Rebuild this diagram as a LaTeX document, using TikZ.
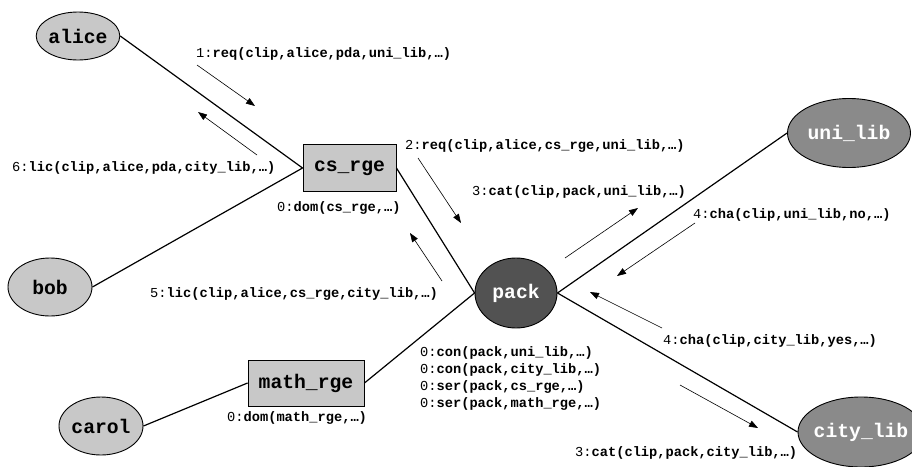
\documentclass[tikz,border=0pt]{standalone}
\usepackage{fontspec}
\setmonofont{Liberation Mono}
\usetikzlibrary{shapes.geometric,arrows.meta}
\definecolor{lightg}{RGB}{200,200,200}
\definecolor{midg}{RGB}{138,138,138}
\definecolor{darkg}{RGB}{82,82,82}
\newcommand{\msg}[2]{{\mdseries#1:}\textbf{#2}}
\begin{document}
\begin{tikzpicture}[x=1pt,y=-1pt,
  nodefont/.style={font=\fontsize{19.7}{22}\selectfont\ttfamily\bfseries},
  agent/.style={ellipse,draw=black,line width=0.9pt,fill=lightg,inner sep=0pt,nodefont},
  lib/.style={agent,fill=midg,text=white},
  packnode/.style={agent,fill=darkg,text=white},
  rge/.style={rectangle,draw=black,line width=0.9pt,fill=lightg,inner sep=0pt,nodefont},
  link/.style={line width=1.2pt},
  msgarrow/.style={line width=0.6pt,-{Triangle[length=9pt,width=6.5pt]}},
  lbl/.style={anchor=west,inner sep=0pt,font=\fontsize{13.7}{16}\selectfont\ttfamily}]
\useasboundingbox (0,0) rectangle (912,466);
% nodes
\node[agent,minimum width=83pt,minimum height=48pt] (alice) at (78,36) {alice};
\node[agent,minimum width=84pt,minimum height=58pt] (bob) at (50,287) {bob};
\node[agent,minimum width=84pt,minimum height=58pt] (carol) at (101,426) {carol};
\node[rge,minimum width=93pt,minimum height=47pt] (csrge) at (349.5,168) {cs\_rge};
\node[rge,minimum width=116pt,minimum height=46pt] (mathrge) at (306,383) {math\_rge};
\node[packnode,minimum width=82pt,minimum height=70pt] (pack) at (516,293) {\makebox[0pt]{pack}};
\node[lib,minimum width=123pt,minimum height=69pt] (unilib) at (849,133) {\makebox[0pt]{uni\_lib}};
\node[lib,minimum width=126pt,minimum height=70pt] (citylib) at (861,432) {\makebox[0pt]{city\_lib}};
% links
\draw[link] (alice.east) -- (csrge.west);
\draw[link] (bob.east) -- (csrge.west);
\draw[link] (carol.east) -- (mathrge.west);
\draw[link] (csrge.east) -- (pack.west);
\draw[link] (mathrge.east) -- (pack.west);
\draw[link] (pack.east) -- (unilib.west);
\draw[link] (pack.east) -- (citylib.west);
% message arrow coordinates
\coordinate (a1s) at (197,65);  \coordinate (a1e) at (255,106);
\coordinate (a6s) at (257,155); \coordinate (a6e) at (198,112);
\coordinate (a2s) at (418,158); \coordinate (a2e) at (461,223);
\coordinate (a5s) at (442,281); \coordinate (a5e) at (410,233);
\coordinate (a3s) at (565,258); \coordinate (a3e) at (638,208);
\coordinate (a4s) at (695,223); \coordinate (a4e) at (617,276);
\coordinate (b4s) at (662,328); \coordinate (b4e) at (590,292);
\coordinate (b3s) at (680,385); \coordinate (b3e) at (758,428);
\draw[msgarrow] (a1s) -- (a1e);
\draw[msgarrow] (a6s) -- (a6e);
\draw[msgarrow] (a2s) -- (a2e);
\draw[msgarrow] (a5s) -- (a5e);
\draw[msgarrow] (a3s) -- (a3e);
\draw[msgarrow] (a4s) -- (a4e);
\draw[msgarrow] (b4s) -- (b4e);
\draw[msgarrow] (b3s) -- (b3e);
% labels
\node[lbl] (l1) at (196,54) {\msg{1}{req(clip,alice,pda,uni\_lib,…)}};
\node[lbl] (l2) at (405,146) {\msg{2}{req(clip,alice,cs\_rge,uni\_lib,…)}};
\node[lbl] (l6) at (12,168) {\msg{6}{lic(clip,alice,pda,city\_lib,…)}};
\node[lbl] (l0cs) at (277,208) {\msg{0}{dom(cs\_rge,…)}};
\node[lbl] (l5) at (150,294) {\msg{5}{lic(clip,alice,cs\_rge,city\_lib,…)}};
\node[lbl] (l3u) at (472,192) {\msg{3}{cat(clip,pack,uni\_lib,…)}};
\node[lbl] (l4u) at (693,215) {\msg{4}{cha(clip,uni\_lib,no,…)}};
\node[lbl] (l4l) at (663,341) {\msg{4}{cha(clip,city\_lib,yes,…)}};
\node[lbl] (l3l) at (575,453) {\msg{3}{cat(clip,pack,city\_lib,…)}};
\node[lbl] (lmath) at (227,418) {\msg{0}{dom(math\_rge,…)}};
\node[lbl] (lp1) at (420,353) {\msg{0}{con(pack,uni\_lib,…)}};
\node[lbl] (lp2) at (420,370) {\msg{0}{con(pack,city\_lib,…)}};
\node[lbl] (lp3) at (420,387) {\msg{0}{ser(pack,cs\_rge,…)}};
\node[lbl] (lp4) at (420,404) {\msg{0}{ser(pack,math\_rge,…)}};
\end{tikzpicture}
\end{document}
